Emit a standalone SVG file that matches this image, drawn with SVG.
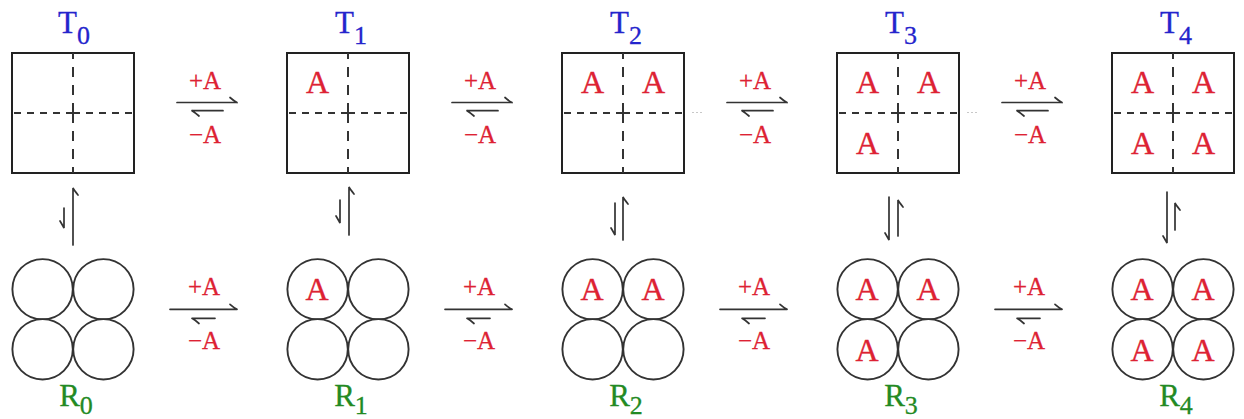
<svg xmlns="http://www.w3.org/2000/svg" width="1244" height="419" viewBox="0 0 1244 419">
<style>
.box{fill:#fff;stroke:#222;stroke-width:2}
.dh{stroke:#333;stroke-width:2;stroke-dasharray:7 6;fill:none}
.dv{stroke:#333;stroke-width:2;stroke-dasharray:10 8;fill:none}
.cir{fill:#fff;stroke:#333;stroke-width:1.9}
.arr{stroke:#333;stroke-width:1.7;fill:none;stroke-linecap:round}
text{font-family:'Liberation Serif','DejaVu Serif','Times New Roman',serif}
.A{font-size:32px;fill:#dd2233;stroke:#dd2233;stroke-width:0.4;text-anchor:middle}
.lab{font-size:25px;fill:#dd2233;stroke:#dd2233;stroke-width:0.3;text-anchor:middle}
.T{font-size:31px;fill:#2424cc;stroke:#2424cc;stroke-width:0.3;text-anchor:middle}
.R{font-size:31px;fill:#238a23;stroke:#238a23;stroke-width:0.3;text-anchor:middle}
.sub{font-size:26px}
.art{stroke:#c8c8c8;stroke-width:1;stroke-dasharray:2 2;fill:none}
</style>
<defs>
<g id="sq">
<rect class="box" x="-61" y="-60" width="122" height="120"/>
<path class="dh" d="M0 0H-61M0 0H61"/>
<path class="dv" d="M0 0V-60M0 0V60"/>
</g>
<g id="cq">
<circle class="cir" cx="-30.4" cy="-30" r="30.2"/>
<circle class="cir" cx="30.4" cy="-30" r="30.2"/>
<circle class="cir" cx="-30.4" cy="30" r="30.2"/>
<circle class="cir" cx="30.4" cy="30" r="30.2"/>
</g>
<g id="hT">
<path class="arr" d="M104 102.5H164M164 102.5Q161 101 157 97.5"/>
<path class="arr" d="M119 110.7H150M119 110.7Q122 112.5 126 116"/>
<text class="lab" x="132" y="89">+A</text>
<text class="lab" x="132" y="143">−A</text>
</g>
<g id="hR">
<path class="arr" d="M97 309.3H164M164 309.3Q161 307.8 157 304.3"/>
<path class="arr" d="M119 318.3H142M119 318.3Q122 320 126 323.5"/>
<text class="lab" x="131" y="295">+A</text>
<text class="lab" x="131" y="349">−A</text>
</g>
</defs>

<g id="connectors">
<use href="#hT" x="73"/>
<use href="#hT" x="348"/>
<use href="#hT" x="623"/>
<use href="#hT" x="898"/>
<use href="#hR" x="73"/>
<use href="#hR" x="348"/>
<use href="#hR" x="623"/>
<use href="#hR" x="898"/>
<path class="arr" d="M64 208V228Q63 226 60 221"/>
<path class="arr" d="M73 245V188Q74 190 78 195"/>
<path class="arr" d="M340 200V223Q339 221 336 216"/>
<path class="arr" d="M349 235V187Q350 189 354 194"/>
<path class="arr" d="M615 203V235Q614 233 611 228"/>
<path class="arr" d="M623 240V197Q624 199 628 204"/>
<path class="arr" d="M889 197V240Q888 238 885 233"/>
<path class="arr" d="M898 236V200Q899 202 903 207"/>
<path class="arr" d="M1167 192V243Q1166 241 1163 236"/>
<path class="arr" d="M1175 230V203Q1176 205 1180 210"/>
</g>

<g id="T0">
<use href="#sq" x="73" y="113"/>
<text class="T" x="74" y="33">T<tspan class="sub" dy="11">0</tspan></text>
</g>
<g id="T1">
<use href="#sq" x="348" y="113"/>
<text class="A" x="317.5" y="93">A</text>
<text class="T" x="351" y="33">T<tspan class="sub" dy="11">1</tspan></text>
</g>
<g id="T2">
<use href="#sq" x="623" y="113"/>
<text class="A" x="592.5" y="93">A</text>
<text class="A" x="653.5" y="93">A</text>
<text class="T" x="626" y="33">T<tspan class="sub" dy="11">2</tspan></text>
</g>
<g id="T3">
<use href="#sq" x="898" y="113"/>
<text class="A" x="867.5" y="93">A</text>
<text class="A" x="928.5" y="93">A</text>
<text class="A" x="867.5" y="154">A</text>
<text class="T" x="901" y="33">T<tspan class="sub" dy="11">3</tspan></text>
</g>
<g id="T4">
<use href="#sq" x="1173" y="113"/>
<text class="A" x="1142.5" y="93">A</text>
<text class="A" x="1203.5" y="93">A</text>
<text class="A" x="1142.5" y="154">A</text>
<text class="A" x="1203.5" y="154">A</text>
<text class="T" x="1176" y="33">T<tspan class="sub" dy="11">4</tspan></text>
</g>

<g id="R0">
<use href="#cq" x="73" y="319.3"/>
<text class="R" x="76" y="406">R<tspan class="sub" dy="8">0</tspan></text>
</g>
<g id="R1">
<use href="#cq" x="348" y="319.3"/>
<text class="A" x="317" y="300">A</text>
<text class="R" x="351" y="406">R<tspan class="sub" dy="8">1</tspan></text>
</g>
<g id="R2">
<use href="#cq" x="623" y="319.3"/>
<text class="A" x="592" y="300">A</text>
<text class="A" x="653" y="300">A</text>
<text class="R" x="626" y="406">R<tspan class="sub" dy="8">2</tspan></text>
</g>
<g id="R3">
<use href="#cq" x="898" y="319.3"/>
<text class="A" x="867" y="300">A</text>
<text class="A" x="928" y="300">A</text>
<text class="A" x="867" y="361">A</text>
<text class="R" x="901" y="406">R<tspan class="sub" dy="8">3</tspan></text>
</g>
<g id="R4">
<use href="#cq" x="1173" y="319.3"/>
<text class="A" x="1142" y="300">A</text>
<text class="A" x="1203" y="300">A</text>
<text class="A" x="1142" y="361">A</text>
<text class="A" x="1203" y="361">A</text>
<text class="R" x="1176" y="406">R<tspan class="sub" dy="8">4</tspan></text>
</g>

<path class="art" d="M692 112.5H703M967 112.5H978"/>
</svg>
